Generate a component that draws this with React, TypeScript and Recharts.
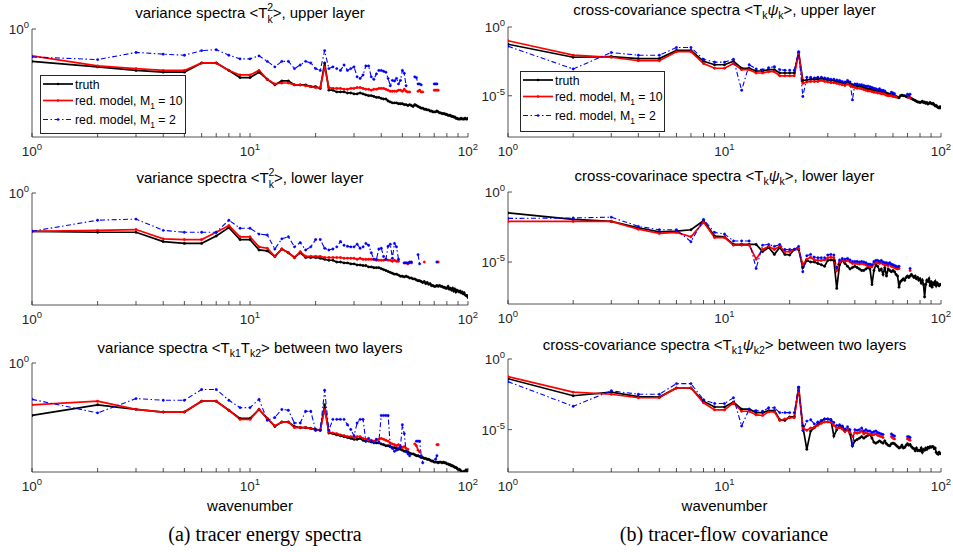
import React from 'react';
import { LineChart, Line, XAxis, YAxis, Legend } from 'recharts';

const _ = null;

const WAVENUMBERS = [
  1, 2, 3, 4, 5, 6, 7, 8, 9, 10, 11, 12, 13, 14, 15, 16, 17, 18, 19, 20,
  21, 22, 23, 24, 25, 26, 27, 28, 29, 30, 31, 32, 33, 34, 35, 36, 37, 38, 39, 40,
  41, 42, 43, 44, 45, 46, 47, 48, 49, 50, 51, 52, 53, 54, 55, 56, 57, 58, 59, 60,
  61, 62, 63, 64, 65, 66, 67, 68, 69, 70, 71, 72, 73, 74, 75, 76, 77, 78, 79, 80,
  81, 82, 83, 84, 85, 86, 87, 88, 89, 90, 91, 92, 93, 94, 95, 96, 97, 98, 99, 100,
];

const X_TICKS = [1, 2, 3, 4, 5, 6, 7, 8, 9, 10, 20, 30, 40, 50, 60, 70, 80, 90, 100];
const X_TICK_EXP: Record<number, string> = { 1: '0', 10: '1', 100: '2' };
const Y_TICKS_LEFT = [1];
const Y_TICKS_RIGHT = [1e-5, 1];
const Y_TICK_EXP: Record<number, string> = { 1: '0', 1e-5: '-5' };

// (a) upper layer <T_k^2>
const TRUTH_A1 = [
  1.6e-2, 7.9e-3, 5e-3, 4e-3, 4e-3, 1.3e-2, 1.3e-2, 5e-3, 2e-3, 2e-3,
  4e-3, 1.6e-3, 7.9e-4, 1.3e-3, 1.3e-3, 7.9e-4, 7.9e-4, 7.9e-4, 6.3e-4, 6.3e-4,
  5e-4, 1.3e-2, 4e-4, 4e-4, 3.2e-4, 3.2e-4, 3.2e-4, 2.8e-4, 2.8e-4, 2.5e-4,
  2.5e-4, 2.8e-4, 2.5e-4, 2.2e-4, 2e-4, 2e-4, 1.8e-4, 1.6e-4, 1.6e-4, 1.4e-4,
  1.3e-4, 1.3e-4, 1e-4, 8.9e-5, 7.9e-5, 7.9e-5, 7.9e-5, 7.1e-5, 7.1e-5, 7.1e-5,
  6.3e-5, 6.3e-5, 5.6e-5, 6.3e-5, 5.6e-5, 5e-5, 6.3e-5, 5.6e-5, 5e-5, 4.5e-5,
  4e-5, 4e-5, 3.5e-5, 3.5e-5, 3.2e-5, 3.2e-5, 2.8e-5, 2.8e-5, 2.5e-5, 2.5e-5,
  2.5e-5, 2.8e-5, 2.5e-5, 2.2e-5, 2.2e-5, 2e-5, 2e-5, 2e-5, 1.8e-5, 1.8e-5,
  1.6e-5, 1.6e-5, 1.6e-5, 1.4e-5, 1.4e-5, 1.3e-5, 1.3e-5, 1.1e-5, 1.1e-5, 1e-5,
  1e-5, 1e-5, 1.1e-5, 1e-5, 1e-5, 1e-5, 1.1e-5, 1e-5, 1e-5, 1.1e-5,
];
const M10_A1 = [
  3.2e-2, 8.9e-3, 6.3e-3, 5e-3, 5e-3, 1.3e-2, 1.3e-2, 5e-3, 2.8e-3, 2.8e-3,
  5e-3, 1.6e-3, 8.9e-4, 1e-3, 1e-3, 7.9e-4, 7.9e-4, 7.1e-4, 6.3e-4, 5.6e-4,
  5.6e-4, 7.9e-3, 5.6e-4, 5e-4, 5e-4, 5e-4, 4.5e-4, 4.5e-4, 5e-4, 5e-4,
  5.6e-4, 5.6e-4, 5e-4, 4.5e-4, 4.5e-4, 4e-4, 4.5e-4, 4.5e-4, 5e-4, 5e-4,
  5e-4, 4.5e-4, 4e-4, 3.5e-4, 3.5e-4, 3.5e-4, 3.5e-4, 4e-4, 4e-4, 3.5e-4,
  4.5e-4, 3.5e-4, 3.2e-4, 3.2e-4, _, _, _, _, 3.5e-4, 4e-4,
  3.2e-4, 3.2e-4, _, _, _, _, _, _, _, 4e-4,
  4e-4, 4e-4, 4e-4,
];
const M2_A1 = [
  2.8e-2, 2e-2, 5e-2, 4e-2, 3.5e-2, 6.3e-2, 7.1e-2, 3.5e-2, 2.2e-2, 2.2e-2,
  3.2e-2, 1.6e-2, 7.9e-3, 1.6e-2, 1.6e-2, 6.3e-3, 1e-2, 1.6e-2, 1.3e-2, 6.3e-3,
  5e-3, 6.3e-2, 6.3e-3, 7.9e-3, 6.3e-3, 5e-3, 1e-2, 5e-3, 6.3e-3, 7.9e-3,
  2.2e-3, 1.8e-3, 2.8e-3, 8.9e-3, 8.9e-3, 2.2e-3, 1.6e-3, 3.2e-3, 5e-3, 5e-3,
  4.5e-3, 4e-3, 1.8e-3, 7.1e-4, 1.4e-3, 1.3e-3, 1.8e-3, 8.9e-4, 1.4e-3, 5e-3,
  3.5e-3, 7.1e-4, _, _, _, _, 2.2e-3, 2e-3, 8.9e-4, 8.9e-4,
  7.9e-4, _, _, _, _, _, _, _, _, 8.9e-4,
  8.9e-4, 8.9e-4,
];

// (a) lower layer <T_k^2>
const TRUTH_A2 = [
  8.9e-3, 7.9e-3, 7.9e-3, 2.5e-3, 2e-3, 2e-3, 5e-3, 1.4e-2, 3.2e-3, 3.2e-3,
  8.9e-4, 7.9e-4, 4e-4, 1e-3, 6.3e-4, 3.5e-4, 6.3e-4, 3.5e-4, 3.5e-4, 3.5e-4,
  3.2e-4, 2.8e-4, 2.5e-4, 2.5e-4, 2e-4, 2e-4, 1.8e-4, 1.8e-4, 1.6e-4, 1.6e-4,
  1.4e-4, 1.4e-4, 1.3e-4, 1.3e-4, 1.1e-4, 1.1e-4, 1e-4, 1e-4, 1e-4, 8.9e-5,
  7.9e-5, 7.1e-5, 6.3e-5, 5.6e-5, 5e-5, 4.5e-5, 4.5e-5, 4e-5, 3.5e-5, 3.5e-5,
  3.2e-5, 3.5e-5, 3.2e-5, 2.8e-5, 2.8e-5, 2.5e-5, 2.5e-5, 2.2e-5, 2e-5, 2e-5,
  1.8e-5, 1.6e-5, 1.8e-5, 1.4e-5, 1.6e-5, 1.3e-5, 1.4e-5, 1.1e-5, 1.1e-5, 1e-5,
  1e-5, 1.1e-5, 1e-5, 1.1e-5, 1e-5, 1e-5, 8.9e-6, 8.9e-6, 7.9e-6, 7.9e-6,
  1e-5, 7.1e-6, 7.9e-6, 6.3e-6, 7.9e-6, 5.6e-6, 7.1e-6, 5e-6, 6.3e-6, 5.6e-6,
  5e-6, 5.6e-6, 4.5e-6, 5e-6, 4e-6, 4.5e-6, 3.5e-6, 3.2e-6, 3.2e-6, 2.5e-6,
];
const M10_A2 = [
  8.9e-3, 1e-2, 1.1e-2, 3.5e-3, 3.2e-3, 3.2e-3, 7.9e-3, 1.8e-2, 4.5e-3, 4.5e-3,
  1.3e-3, 1.1e-3, 4e-4, 1e-3, 6.3e-4, 3.5e-4, 7.1e-4, 4e-4, 4e-4, 4e-4,
  4e-4, 3.5e-4, 3.5e-4, 3.5e-4, 3.5e-4, 3.5e-4, 3.2e-4, 3.2e-4, 3.2e-4, 3.2e-4,
  2.8e-4, 3.2e-4, 2.8e-4, 2.8e-4, 2.8e-4, 2.8e-4, 2.8e-4, 2.5e-4, 2.5e-4, 2.5e-4,
  2.5e-4, 2.8e-4, 2.5e-4, 2.5e-4, 2.2e-4, 2.5e-4, 2.2e-4, 2.2e-4, _, _,
  1.8e-4, 1.8e-4, 1.6e-4, 1.8e-4, 1.8e-4, _, _, _, _, _,
  _, _, 2e-4, _, _, _, _, _, _, _,
  _, _, 2e-4,
];
const M2_A2 = [
  8.9e-3, 3.5e-2, 4e-2, 1e-2, 7.9e-3, 7.9e-3, 7.9e-3, 3.5e-2, 1.3e-2, 1.3e-2,
  6.3e-3, 5.6e-3, 1e-3, 3.5e-3, 4.5e-3, 1.3e-3, 2.2e-3, 8.9e-4, 1.3e-3, 3.2e-3,
  3.2e-3, 1.1e-3, 8.9e-4, 1e-3, 1.3e-3, 2.5e-3, 1.6e-3, 1.4e-3, 1.3e-3, 1.3e-3,
  1.8e-3, 1.1e-3, 1.3e-3, 2e-3, 1.6e-3, 6.3e-4, 2.8e-4, 2.8e-4, 1e-3, 1.1e-3,
  4e-4, 2.8e-4, 1.4e-3, 1.8e-3, 3.2e-4, 2e-3, 1.3e-3, 2.8e-4, _, _,
  1.8e-4, 1.8e-4, 1.8e-4, 2e-4, 2e-4, _, _, _, 5e-4, 1.6e-4,
  _, _, _, _, _, _, _, _, _, _,
  _, 2e-4,
];

// (a) between layers <T_k1 T_k2>
const TRUTH_A3 = [
  1.3e-3, 5e-3, 2.8e-3, 2e-3, 2e-3, 7.9e-3, 7.9e-3, 2.5e-3, 8.9e-4, 8.9e-4,
  2.8e-3, 8.9e-4, 3.2e-4, 5.6e-4, 5.6e-4, 3.2e-4, 2.8e-4, 2.8e-4, 2.5e-4, 2.2e-4,
  2e-4, 5e-3, 1.4e-4, 1.3e-4, 1.1e-4, 1e-4, 8.9e-5, 7.9e-5, 7.1e-5, 6.3e-5,
  6.3e-5, 7.1e-5, 5.6e-5, 5e-5, 5e-5, 4.5e-5, 4.5e-5, 4e-5, 4e-5, 3.5e-5,
  3.2e-5, 2.8e-5, 2.8e-5, 2.5e-5, 2.2e-5, 2.2e-5, 2e-5, 1.8e-5, 1.8e-5, 1.6e-5,
  1.4e-5, 1.4e-5, 1.3e-5, 1.1e-5, 1e-5, 1e-5, 8.9e-6, 7.9e-6, 7.9e-6, 7.1e-6,
  6.3e-6, 6.3e-6, 5.6e-6, 5.6e-6, 5e-6, 5e-6, 4.5e-6, 4e-6, 4e-6, 3.5e-6,
  3.5e-6, 3.5e-6, 3.2e-6, 3.5e-6, 3.5e-6, 3.2e-6, 3.5e-6, 3.2e-6, 3.2e-6, 2.8e-6,
  2.8e-6, 2.5e-6, 2.5e-6, 2.2e-6, 2.2e-6, 2e-6, 1.8e-6, 1.8e-6, 1.6e-6, 1.4e-6,
  1.4e-6, 1.3e-6, 1.1e-6, 1e-6, 1e-6, 1.1e-6, 1e-6, 1.3e-6, 1.1e-6, 1.3e-6,
];
const M10_A3 = [
  5e-3, 7.9e-3, 2.8e-3, 2e-3, 2e-3, 7.9e-3, 7.9e-3, 2.5e-3, 7.9e-4, 7.9e-4,
  2.8e-3, 8.9e-4, 3.5e-4, 5.6e-4, 5.6e-4, 2.8e-4, 2.8e-4, 2.8e-4, 2.5e-4, 2e-4,
  2e-4, 2.8e-3, 1.6e-4, 1.4e-4, 1.3e-4, 1.1e-4, 1e-4, 8.9e-5, 8.9e-5, 7.9e-5,
  8.9e-5, 8.9e-5, 7.1e-5, 6.3e-5, 5.6e-5, 5.6e-5, 5e-5, 5.6e-5, 6.3e-5, 7.1e-5,
  6.3e-5, 5.6e-5, 5e-5, 4e-5, 3.5e-5, 3.2e-5, 2.8e-5, 3.2e-5, 2.5e-5, 2.2e-5,
  2.5e-5, 2e-5, 1.8e-5, _, _, _, 3.5e-5, 2.8e-5, 1.6e-5, 1.3e-5,
  _, _, _, _, _, _, _, _, _, _,
  _, 3.2e-5, 3.2e-5,
];
const M2_A3 = [
  1e-2, 1.8e-3, 1.1e-2, 8.9e-3, 8.9e-3, 3.5e-2, 3.5e-2, 8.9e-3, 3.5e-3, 3.5e-3,
  1e-2, 7.1e-4, 1e-3, 2.8e-3, 2.5e-3, 5e-4, 5e-4, 2.2e-3, 2.2e-3, 2e-4,
  2e-4, 3.2e-2, 2e-4, 7.9e-4, 7.9e-4, 7.9e-4, 7.9e-4, 4e-4, 2.2e-4, 1e-4,
  5e-4, 7.9e-4, 7.9e-4, 5e-5, 7.1e-5, 5e-5, 4e-5, 6.3e-5, 4.5e-5, 1.3e-3,
  1.3e-3, 1.3e-3, 1.3e-3, 2.5e-5, 2e-5, 1.4e-5, 1.6e-5, 2e-5, 2.5e-5, 4e-4,
  1.3e-4, 1.3e-5, 1e-5, 7.9e-6, _, _, _, 5e-5, 5e-5, 5e-5,
  7.9e-6, 3.2e-6, _, _, _, _, _, _, _, _,
  5e-6, 7.9e-6,
];

// (b) upper layer <T_k psi_k>
const TRUTH_B1 = [
  5.6e-2, 6.3e-3, 7.1e-3, 5e-3, 5e-3, 2e-2, 2e-2, 3.2e-3, 1.8e-3, 1.8e-3,
  3.2e-3, 1e-3, 1e-3, 6.3e-4, 6.3e-4, 7.9e-4, 7.9e-4, 4.5e-4, 4.5e-4, 4.5e-4,
  4.5e-4, 1.4e-2, 1.3e-4, 1.4e-4, 1.6e-4, 1.6e-4, 1.6e-4, 1.8e-4, 1.6e-4, 1.4e-4,
  1.3e-4, 1.3e-4, 1.1e-4, 1e-4, 8.9e-5, 7.9e-5, 1e-4, 7.9e-5, 6.3e-5, 5.6e-5,
  5e-5, 5e-5, 4.5e-5, 4e-5, 3.5e-5, 3.2e-5, 3.2e-5, 2.8e-5, 2.5e-5, 2.5e-5,
  2.2e-5, 2.2e-5, 2e-5, 2e-5, 1.8e-5, 1.6e-5, 1.4e-5, 1.3e-5, 1.3e-5, 1.1e-5,
  1e-5, 8.9e-6, 7.9e-6, 7.1e-6, 1e-5, 1.1e-5, 1e-5, 1e-5, 8.9e-6, 7.9e-6,
  7.9e-6, 7.1e-6, 6.3e-6, 5.6e-6, 5e-6, 4.5e-6, 4e-6, 3.5e-6, 3.5e-6, 3.2e-6,
  3.5e-6, 4e-6, 3.2e-6, 3.5e-6, 2.8e-6, 3.2e-6, 2.5e-6, 2.8e-6, 3.2e-6, 2.8e-6,
  2.5e-6, 2.8e-6, 2.2e-6, 1.8e-6, 2e-6, 1.6e-6, 1.4e-6, 1.3e-6, 1.6e-6, 1.3e-6,
];
const M10_B1 = [
  1e-1, 8.9e-3, 6.3e-3, 3.5e-3, 3.5e-3, 1.6e-2, 1.6e-2, 2.2e-3, 1e-3, 1e-3,
  2.2e-3, 7.9e-4, 7.9e-4, 4.5e-4, 4.5e-4, 5.6e-4, 5.6e-4, 2.8e-4, 2.8e-4, 2.8e-4,
  2.8e-4, 1.3e-2, 7.9e-5, 1e-4, 1.1e-4, 1.1e-4, 1.1e-4, 1.3e-4, 1.1e-4, 1e-4,
  8.9e-5, 8.9e-5, 7.9e-5, 7.1e-5, 6.3e-5, 5.6e-5, 7.1e-5, 5.6e-5, 4.5e-5, 4e-5,
  3.5e-5, 3.5e-5, 3.2e-5, 2.8e-5, 2.5e-5, 2.2e-5, 2.2e-5, 2e-5, 1.8e-5, 1.8e-5,
  1.6e-5, 1.6e-5, 1.4e-5, 1.4e-5, 1.3e-5, 1.1e-5, 1e-5, 1e-5, 1e-5, 8.9e-6,
  8.9e-6, 7.9e-6, _, _, _, _, _, _, _, _,
  7.9e-6, 7.1e-6,
];
const M2_B1 = [
  4e-2, 8.9e-4, 1.4e-2, 8.9e-3, 8.9e-3, 3.2e-2, 3.2e-2, 4.5e-3, 2.8e-3, 2.8e-3,
  4.5e-3, 2.5e-5, 1.8e-3, 8.9e-4, 7.9e-4, 1.1e-3, 1.3e-3, 7.9e-4, 7.1e-4, 7.1e-4,
  7.1e-4, 1.6e-2, 8.9e-6, 2.2e-4, 2.2e-4, 2e-4, 2.2e-4, 2.2e-4, 2e-4, 1.8e-4,
  1.6e-4, 1.6e-4, 1.4e-4, 1.3e-4, 1.1e-4, 1e-4, 1.3e-4, 1e-4, 5e-6, 7.1e-5,
  7.1e-5, 6.3e-5, 6.3e-5, 5.6e-5, 5e-5, 5e-5, 4.5e-5, 4e-5, 3.5e-5, 3.2e-5,
  2.8e-5, 3.2e-5, 2.5e-5, 2.5e-5, 2.2e-5, _, _, _, 1.8e-5, 1.6e-5,
  1.4e-5, _, _, _, _, _, _, _, _, 1.3e-5,
  1.1e-5, 1.3e-5,
];

// (b) lower layer <T_k psi_k>
const TRUTH_B2 = [
  3.2e-2, 1.1e-2, 7.9e-3, 2.8e-3, 1.4e-3, 1.6e-3, 2e-3, 8.9e-3, 7.1e-4, 6.3e-4,
  1.8e-4, 1.8e-4, 1.8e-4, 1.8e-4, 5.6e-5, 1.1e-4, 3.5e-5, 1.1e-4, 3.5e-5, 3.2e-5,
  7.9e-5, 7.9e-5, 4e-6, 1.3e-5, 1e-5, 1e-5, 7.9e-6, 6.3e-6, 5e-6, 1.3e-5,
  1.4e-5, 1.3e-5, 1.3e-7, 6.3e-6, 1.3e-5, 7.9e-6, 5e-6, 3.2e-6, 4e-6, 5e-6,
  4e-6, 3.2e-6, 2.5e-6, 2.5e-6, 3.2e-6, 4e-6, 3.2e-6, 2.5e-7, 2.5e-6, 6.3e-6,
  5e-6, 2.5e-6, 3.2e-6, 1.3e-6, 4e-6, 1e-6, 3.2e-6, 2.5e-6, 2e-6, 2.5e-6,
  2e-6, 1.3e-6, 1e-6, 1.6e-7, 4e-7, 5e-7, 6.3e-7, 5e-7, 7.9e-7, 1e-6,
  7.9e-7, 1e-6, 1.3e-6, 1e-6, 7.9e-7, 1e-6, 6.3e-7, 7.9e-7, 5e-7, 6.3e-7,
  3.2e-7, 5e-7, 2.5e-7, 3.2e-8, 2.5e-7, 5e-7, 4e-7, 6.3e-7, 2e-7, 4e-7,
  1.6e-7, 3.2e-7, 2.5e-7, 4e-7, 2e-7, 3.2e-7, 2.5e-7, 2e-7, 2.5e-7, 2.5e-7,
];
const M10_B2 = [
  7.9e-3, 7.9e-3, 7.9e-3, 2.2e-3, 1.1e-3, 1.3e-3, 6.3e-4, 7.1e-3, 5.6e-4, 5.6e-4,
  1.6e-4, 1.6e-4, 1.6e-4, 1.6e-5, 7.9e-5, 1.3e-4, 7.9e-5, 1.3e-4, 5.6e-5, 5.6e-5,
  7.9e-5, 8.9e-5, 6.3e-6, 1.6e-5, 2.2e-5, 1.4e-5, 1.3e-5, 1.3e-5, 1.4e-5, 2e-5,
  2.2e-5, 2e-5, 2.5e-6, 1e-5, 1.3e-5, 1.1e-5, 1.3e-5, 1e-5, 7.9e-6, 7.9e-6,
  7.9e-6, 7.1e-6, 7.9e-6, 7.1e-6, 6.3e-6, 5e-6, 5e-6, 4.5e-6, 7.9e-6, 8.9e-6,
  8.9e-6, 7.9e-6, 8.9e-6, 7.1e-6, 6.3e-6, 6.3e-6, 5.6e-6, 6.3e-6, 5e-6, 4.5e-6,
  4e-6, 3.5e-6, 3.2e-6, 3.5e-6, _, _, _, _, _, _,
  _, 2.5e-6,
];
const M2_B2 = [
  1.3e-2, 1.4e-2, 1.6e-2, 3.5e-3, 2e-3, 2e-3, 2.8e-4, 1.1e-2, 1.3e-3, 1e-3,
  3.2e-4, 3.2e-4, 3.2e-4, 3.5e-6, 1.6e-4, 1.8e-4, 1.3e-4, 1.8e-4, 7.9e-5, 7.9e-5,
  7.9e-5, 1.3e-4, 2e-6, 2.8e-5, 3.5e-5, 2.2e-5, 2e-5, 2e-5, 2e-5, 3.2e-5,
  3.5e-5, 3.2e-5, 4e-6, 1.4e-5, 1.8e-5, 1.6e-5, 1.8e-5, 1.4e-5, 1.1e-5, 1.1e-5,
  1.1e-5, 1e-5, 1.1e-5, 1e-5, 8.9e-6, 7.1e-6, 7.1e-6, 6.3e-6, 1.1e-5, 1.3e-5,
  1.3e-5, 1.1e-5, 1.3e-5, 1e-5, 8.9e-6, 8.9e-6, 7.9e-6, 8.9e-6, 7.1e-6, 6.3e-6,
  5.6e-6, 5e-6, 4.5e-6, 5e-6, _, _, _, _, _, _,
  _, 3.5e-6,
];

// (b) between layers <T_k1 psi_k2>
const TRUTH_B3 = [
  4e-2, 2.5e-3, 4.5e-3, 2.2e-3, 2e-3, 8.9e-3, 8.9e-3, 1e-3, 4e-4, 4e-4,
  8.9e-4, 2.8e-4, 2.8e-4, 1.6e-4, 1.6e-4, 2.2e-4, 2.2e-4, 5e-5, 4.5e-5, 7.9e-5,
  7.9e-5, 1e-2, 1.8e-5, 4e-7, 7.9e-6, 1.4e-5, 2.5e-5, 4e-5, 5.6e-5, 5.6e-5,
  5e-5, 3.5e-6, 1e-5, 1.8e-5, 1.6e-5, 7.9e-6, 1e-5, 5e-6, 7.1e-7, 1.6e-6,
  2e-6, 2.5e-6, 3.2e-6, 2.5e-6, 3.2e-6, 4e-6, 4.5e-6, 2.5e-6, 1.3e-6, 1.1e-6,
  1.3e-6, 1.6e-6, 1.3e-6, 1.1e-6, 1.6e-6, 1e-6, 7.9e-7, 7.1e-7, 1e-6, 1.1e-6,
  1e-6, 7.9e-7, 6.3e-7, 5e-7, 5.6e-7, 7.9e-7, 5e-7, 5.6e-7, 7.9e-7, 1e-6,
  7.9e-7, 8.9e-7, 6.3e-7, 5e-7, 4.5e-7, 3.2e-7, 5e-7, 3.2e-7, 3.5e-7, 3.2e-7,
  5e-7, 2.5e-7, 4e-7, 3.5e-7, 5e-7, 4e-7, 5.6e-7, 5e-7, 6.3e-7, 5.6e-7,
  6.3e-7, 6.3e-7, 4.5e-7, 5e-7, 2.5e-7, 2e-7, 1.8e-7, 2.5e-7, 2e-7, 2e-7,
];
const M10_B3 = [
  5.6e-2, 4.5e-3, 3.2e-3, 1.8e-3, 1.8e-3, 8.9e-3, 8.9e-3, 7.9e-4, 2.5e-4, 2.5e-4,
  7.9e-4, 2e-4, 2e-4, 1.1e-4, 1e-4, 1.8e-4, 1.8e-4, 4.5e-5, 5.6e-5, 7.1e-5,
  7.1e-5, 8.9e-3, 1.3e-5, 8.9e-6, 1.3e-5, 1.4e-5, 2e-5, 2.8e-5, 3.5e-5, 3.5e-5,
  3.2e-5, 2e-5, 1.3e-5, 1.4e-5, 1.1e-5, 7.1e-6, 1e-5, 6.3e-6, 3.2e-6, 6.3e-6,
  5.6e-6, 6.3e-6, 7.9e-6, 5e-6, 6.3e-6, 5e-6, 5e-6, 4e-6, 4.5e-6, 5e-6,
  4e-6, 3.5e-6, 3.2e-6, 2.8e-6, _, _, _, _, 3.2e-6, 2.5e-6,
  2.2e-6, _, _, _, _, _, _, _, _, 2.2e-6,
  2e-6, 1.8e-6,
];
const M2_B3 = [
  2.5e-2, 4.5e-4, 5.6e-3, 3.2e-3, 3.2e-3, 1.8e-2, 1.8e-2, 1.3e-3, 7.1e-4, 7.1e-4,
  1.8e-3, 1.8e-5, 2.8e-4, 2.2e-4, 2e-4, 3.5e-4, 3.5e-4, 1.6e-4, 1.6e-4, 1.6e-4,
  1.6e-4, 1e-2, 8.9e-6, 4e-5, 5e-5, 2.5e-5, 3.5e-5, 4.5e-5, 5.6e-5, 5.6e-5,
  5e-5, 3.2e-5, 2e-5, 2.2e-5, 1.8e-5, 1.1e-5, 1.6e-5, 1e-5, 7.9e-7, 1e-5,
  8.9e-6, 1e-5, 1.3e-5, 7.9e-6, 1e-5, 7.9e-6, 7.9e-6, 6.3e-6, 7.1e-6, 7.9e-6,
  6.3e-6, 5.6e-6, 5e-6, 4.5e-6, _, _, _, _, 5e-6, 4e-6,
  3.5e-6, _, _, _, _, _, _, _, _, 3.2e-6,
  3.2e-6, 2.8e-6,
];

const SANS = '"Liberation Sans", Arial, Helvetica, sans-serif';
const SERIF = '"Liberation Serif", "Times New Roman", serif';
const AXIS = '#262626';
const TICK_LEN = 4;
const Y_AXIS_W = 30;
const MARGIN_T = 10;
const MARGIN_R = 12;
const X_AXIS_H = 28;

const SERIES = [
  { key: 'truth', color: '#000000', width: 1.7, dash: undefined, label: ['truth'] },
  { key: 'm10', color: '#ff0000', width: 1.7, dash: undefined, label: ['red. model, M', '1', ' = 10'] },
  { key: 'm2', color: '#0000ff', width: 1.1, dash: '5 2.5 1.5 2.5', label: ['red. model, M', '1', ' = 2'] },
];
const LEGEND_ROWS = [9, 25.5, 44.5];

// title pieces: [text, kind]; kind 'sub' | 'sup' | 'stack' (sub set under the previous sup) | 'psi' | ''
type Piece = [string, string];
const TITLE_A1: Piece[] = [['variance spectra <T', ''], ['2', 'sup'], ['k', 'stack'], ['>, upper layer', '']];
const TITLE_A2: Piece[] = [['variance spectra <T', ''], ['2', 'sup'], ['k', 'stack'], ['>, lower layer', '']];
const TITLE_A3: Piece[] = [['variance spectra <T', ''], ['k1', 'sub'], ['T', ''], ['k2', 'sub'], ['> between two layers', '']];
const TITLE_B1: Piece[] = [['cross-covariance spectra <T', ''], ['k', 'sub'], ['ψ', 'psi'], ['k', 'sub'], ['>, upper layer', '']];
const TITLE_B2: Piece[] = [['cross-covarinace spectra <T', ''], ['k', 'sub'], ['ψ', 'psi'], ['k', 'sub'], ['>, lower layer', '']];
const TITLE_B3: Piece[] = [['cross-covariance spectra <T', ''], ['k1', 'sub'], ['ψ', 'psi'], ['k2', 'sub'], ['> between two layers', '']];

const BottomTick = (props: any) => {
  const { x, y, payload } = props;
  const exp = X_TICK_EXP[payload.value];
  return (
    <g>
      <line x1={x} y1={y} x2={x} y2={y - TICK_LEN} stroke={AXIS} strokeWidth={0.8} />
      {exp !== undefined && (
        <text x={x} y={y + 18.5} textAnchor="middle" fontSize={13.5} fill={AXIS} fontFamily={SANS}>
          10<tspan dy={-6} fontSize={9.5}>{exp}</tspan>
        </text>
      )}
    </g>
  );
};

const TopTick = (props: any) => {
  const { x, y } = props;
  return <line x1={x} y1={y} x2={x} y2={y + TICK_LEN} stroke={AXIS} strokeWidth={0.8} />;
};

const LeftTick = (props: any) => {
  const { x, y, payload } = props;
  return (
    <g>
      <line x1={x} y1={y} x2={x + TICK_LEN} y2={y} stroke={AXIS} strokeWidth={0.8} />
      <text x={x - 3} y={y + 5} textAnchor="end" fontSize={13.5} fill={AXIS} fontFamily={SANS}>
        10<tspan dy={-6} fontSize={9.5}>{Y_TICK_EXP[payload.value]}</tspan>
      </text>
    </g>
  );
};

const RightTick = (props: any) => {
  const { x, y } = props;
  return <line x1={x} y1={y} x2={x - TICK_LEN} y2={y} stroke={AXIS} strokeWidth={0.8} />;
};

const LegendBox = ({ w, h }: { w: number; h: number }) => (
  <div style={{ width: w, height: h, boxSizing: 'border-box', border: `1px solid ${AXIS}`, background: '#fff' }}>
    <svg width={w - 2} height={h - 2} style={{ display: 'block' }}>
      {SERIES.map((s, i) => {
        const y = LEGEND_ROWS[i] - 1;
        return (
          <g key={s.key}>
            <line x1={2} x2={32} y1={y} y2={y} stroke={s.color} strokeWidth={s.width} strokeDasharray={s.dash} />
            <circle cx={17} cy={y} r={1.3} fill={s.color} />
            {s.label.length === 1 ? (
              <text x={34} y={y + 4.5} fontSize={12.3} fill="#000" fontFamily={SANS}>{s.label[0]}</text>
            ) : (
              <text x={34} y={y + 4.5} fontSize={12.3} fill="#000" fontFamily={SANS}>
                {s.label[0]}
                <tspan dy={3.5} fontSize={8.5}>{s.label[1]}</tspan>
                <tspan dy={-3.5}>{s.label[2]}</tspan>
              </text>
            )}
          </g>
        );
      })}
    </svg>
  </div>
);

const Title = ({ x, y, pieces }: { x: number; y: number; pieces: Piece[] }) => {
  let shift = 0;
  return (
    <text x={x} y={y} textAnchor="middle" fontSize={15} fill="#000" fontFamily={SANS}>
      {pieces.map(([t, kind], i) => {
        const target = kind === 'sup' ? -7 : kind === 'stack' ? 5 : kind === 'sub' ? 4 : 0;
        const dy = target - shift;
        shift = target;
        const small = kind === 'sup' || kind === 'sub' || kind === 'stack';
        return (
          <tspan
            key={i}
            dy={dy || undefined}
            dx={kind === 'stack' ? -5.8 : undefined}
            fontSize={small ? 10.5 : undefined}
            fontStyle={kind === 'psi' ? 'italic' : undefined}
          >
            {t}
          </tspan>
        );
      })}
    </text>
  );
};

type PanelProps = {
  left: number;
  top: number;
  plotW: number;
  plotH: number;
  yDomain: [number, number];
  yTicks: number[];
  truth: number[];
  m10: (number | null)[];
  m2: (number | null)[];
  legendAt?: { x: number; y: number; w: number; h: number };
};

function Panel({ left, top, plotW, plotH, yDomain, yTicks, truth, m10, m2, legendAt }: PanelProps) {
  const width = Y_AXIS_W + plotW + MARGIN_R;
  const height = MARGIN_T + plotH + X_AXIS_H;
  const boxLeft = left - Y_AXIS_W;
  const boxTop = top - MARGIN_T;
  const data = WAVENUMBERS.map((k, i) => ({
    k,
    truth: truth[i] ?? null,
    m10: m10[i] ?? null,
    m2: m2[i] ?? null,
  }));

  return (
    <div style={{ position: 'absolute', left: boxLeft, top: boxTop, width, height }}>
      <LineChart width={width} height={height} data={data} margin={{ top: MARGIN_T, right: MARGIN_R, bottom: 0, left: 0 }}>
        <XAxis
          xAxisId="b"
          dataKey="k"
          type="number"
          scale="log"
          domain={[1, 100]}
          ticks={X_TICKS}
          interval={0}
          allowDataOverflow
          height={X_AXIS_H}
          tickSize={0}
          tickMargin={0}
          tickLine={false}
          axisLine={{ stroke: AXIS, strokeWidth: 0.8 }}
          tick={BottomTick}
        />
        <XAxis
          xAxisId="t"
          orientation="top"
          dataKey="k"
          type="number"
          scale="log"
          domain={[1, 100]}
          ticks={X_TICKS}
          interval={0}
          allowDataOverflow
          height={0}
          tickSize={0}
          tickMargin={0}
          tickLine={false}
          axisLine={{ stroke: AXIS, strokeWidth: 0.8 }}
          tick={TopTick}
        />
        <YAxis
          yAxisId="l"
          type="number"
          scale="log"
          domain={yDomain}
          ticks={yTicks}
          interval={0}
          allowDataOverflow
          width={Y_AXIS_W}
          tickSize={0}
          tickMargin={0}
          tickLine={false}
          axisLine={{ stroke: AXIS, strokeWidth: 0.8 }}
          tick={LeftTick}
        />
        <YAxis
          yAxisId="r"
          orientation="right"
          type="number"
          scale="log"
          domain={yDomain}
          ticks={yTicks}
          interval={0}
          allowDataOverflow
          width={0}
          tickSize={0}
          tickMargin={0}
          tickLine={false}
          axisLine={{ stroke: AXIS, strokeWidth: 0.8 }}
          tick={RightTick}
        />
        {SERIES.map((s) => (
          <Line
            key={s.key}
            xAxisId="b"
            yAxisId="l"
            type="linear"
            dataKey={s.key}
            stroke={s.color}
            strokeWidth={s.width}
            strokeDasharray={s.dash}
            dot={{ r: 1.2, fill: s.color, stroke: s.color, strokeWidth: 0.4, strokeDasharray: '' }}
            activeDot={false}
            isAnimationActive={false}
          />
        ))}
        {legendAt && (
          <Legend
            layout="vertical"
            align="center"
            verticalAlign="middle"
            wrapperStyle={{ left: legendAt.x - boxLeft, top: legendAt.y - boxTop, width: legendAt.w, height: legendAt.h }}
            content={() => <LegendBox w={legendAt.w} h={legendAt.h} />}
          />
        )}
      </LineChart>
    </div>
  );
}

export default function App() {
  const leftDomain: [number, number] = [1e-6, 1];
  const rightDomain: [number, number] = [1e-8, 1];
  const lc = 250;
  const rc = 724.5;
  return (
    <div style={{ position: 'absolute', left: 0, top: 0, width: 953, height: 552, background: '#fff', fontFamily: SANS }}>
      <Panel left={32} top={29} plotW={436} plotH={108} yDomain={leftDomain} yTicks={Y_TICKS_LEFT}
        truth={TRUTH_A1} m10={M10_A1} m2={M2_A1} legendAt={{ x: 40, y: 75, w: 146, h: 59 }} />
      <Panel left={32} top={193} plotW={436} plotH={112} yDomain={leftDomain} yTicks={Y_TICKS_LEFT}
        truth={TRUTH_A2} m10={M10_A2} m2={M2_A2} />
      <Panel left={32} top={363} plotW={436} plotH={109} yDomain={leftDomain} yTicks={Y_TICKS_LEFT}
        truth={TRUTH_A3} m10={M10_A3} m2={M2_A3} />
      <Panel left={508} top={27} plotW={433} plotH={110} yDomain={rightDomain} yTicks={Y_TICKS_RIGHT}
        truth={TRUTH_B1} m10={M10_B1} m2={M2_B1} legendAt={{ x: 520, y: 71, w: 145, h: 61 }} />
      <Panel left={508} top={192} plotW={433} plotH={112} yDomain={rightDomain} yTicks={Y_TICKS_RIGHT}
        truth={TRUTH_B2} m10={M10_B2} m2={M2_B2} />
      <Panel left={508} top={359} plotW={433} plotH={113} yDomain={rightDomain} yTicks={Y_TICKS_RIGHT}
        truth={TRUTH_B3} m10={M10_B3} m2={M2_B3} />

      <svg width={953} height={552} style={{ position: 'absolute', left: 0, top: 0, pointerEvents: 'none' }}>
        <Title x={lc} y={18} pieces={TITLE_A1} />
        <Title x={lc} y={183} pieces={TITLE_A2} />
        <Title x={lc} y={353} pieces={TITLE_A3} />
        <Title x={rc} y={15} pieces={TITLE_B1} />
        <Title x={rc} y={181} pieces={TITLE_B2} />
        <Title x={rc} y={350} pieces={TITLE_B3} />
        <text x={lc} y={511} textAnchor="middle" fontSize={15} fill="#000" fontFamily={SANS}>wavenumber</text>
        <text x={rc} y={511} textAnchor="middle" fontSize={15} fill="#000" fontFamily={SANS}>wavenumber</text>
        <text x={265} y={541} textAnchor="middle" fontSize={20} fill="#000" fontFamily={SERIF}>(a) tracer energy spectra</text>
        <text x={724} y={541} textAnchor="middle" fontSize={20} fill="#000" fontFamily={SERIF}>(b) tracer-flow covariance</text>
      </svg>
    </div>
  );
}
